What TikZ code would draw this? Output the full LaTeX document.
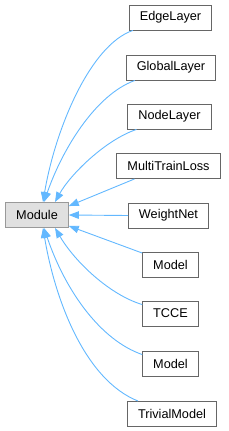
\documentclass[tikz,border=0pt]{standalone}
\usepackage{fontspec}
\setmainfont{Liberation Sans}
\usetikzlibrary{arrows.meta}
\definecolor{edgeblue}{HTML}{63B8FF}
\definecolor{boxgray}{HTML}{666666}
\definecolor{modgray}{HTML}{999999}
\definecolor{modfill}{HTML}{E0E0E0}
\begin{document}
\begin{tikzpicture}[x=1pt,y=-1pt,
  cls/.style={draw=boxgray,fill=white,line width=0.9pt,inner xsep=10.5pt,inner ysep=0pt,minimum height=25pt,font=\fontsize{12.7pt}{14pt}\selectfont},
  base/.style={cls,draw=modgray,fill=modfill},
  edge/.style={draw=edgeblue,line width=0.9pt,-{Triangle[length=10pt,width=7.5pt]}}]
\useasboundingbox (0,0) rectangle (229,431);
\node[base] (m) at (37,215) {Module};
\node[cls] (n1) at (170.5,17.5) {EdgeLayer};
\node[cls] (n2) at (171,67.5) {GlobalLayer};
\node[cls] (n3) at (169.5,116.5) {NodeLayer};
\node[cls] (n4) at (168.5,166) {MultiTrainLoss};
\node[cls] (n5) at (168.5,215.5) {WeightNet};
\node[cls] (n6) at (170.5,265) {Model};
\node[cls] (n7) at (170.5,313.5) {TCCE};
\node[cls] (n8) at (170.5,363.5) {Model};
\node[cls] (n9) at (172,414) {TrivialModel};
% upper edges
\draw[edge] ([xshift=4pt]n1.south west) .. controls (90,45) and (55,130) .. ([xshift=6pt]m.north);
\draw[edge] ([xshift=9pt]n2.south west) .. controls (95,95) and (62,150) .. ([xshift=7pt]m.north);
\draw[edge] ([xshift=9pt]n3.south west) .. controls (105,140) and (70,175) .. ([xshift=18pt]m.north);
\draw[edge] ([xshift=18pt]n4.south west) -- ([yshift=-4pt]m.north east);
\draw[edge] (n5.west) -- (m.east);
% lower edges
\draw[edge] ([yshift=-1pt]n6.north west) -- ([yshift=2pt]m.south east);
\draw[edge] ([yshift=-4pt]n7.north west) .. controls (110,295) and (75,262) .. ([xshift=18pt]m.south);
\draw[edge] ([yshift=-4pt]n8.north west) .. controls (100,340) and (65,290) .. ([xshift=7pt]m.south);
\draw[edge] ([xshift=11pt]n9.north west) .. controls (85,380) and (55,300) .. ([xshift=6pt]m.south);
\end{tikzpicture}
\end{document}
